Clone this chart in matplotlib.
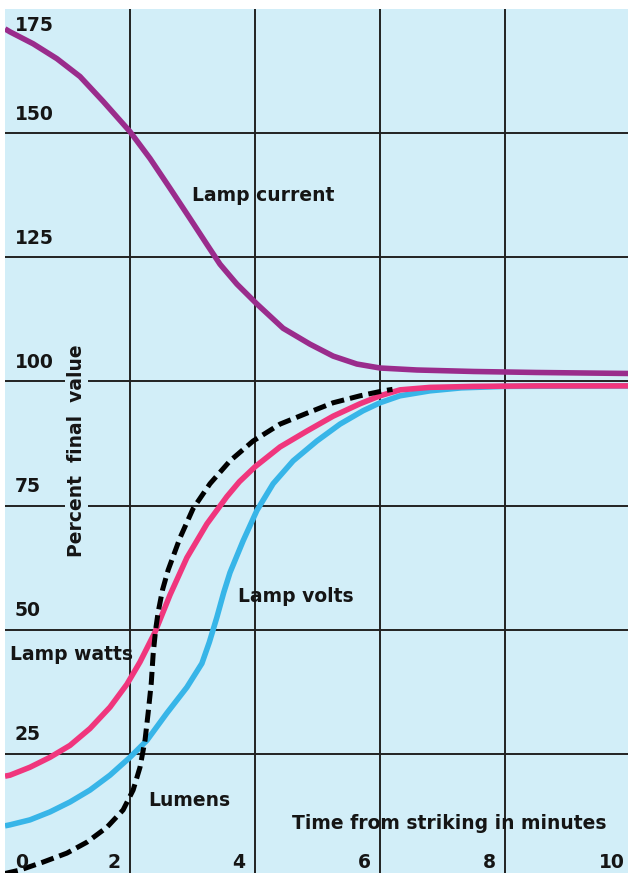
import matplotlib
matplotlib.use("Agg")
import matplotlib.pyplot as plt

plt.rcParams['font.family'] = ['DejaVu Sans']

# ---- data ----
x_ticks = [0, 2, 4, 6, 8, 10]
x_tick_labels = ["0", "2", "4", "6", "8", "10"]
y_ticks = [25, 50, 75, 100, 125, 150, 175]
y_tick_labels = ["25", "50", "75", "100", "125", "150", "175"]

current_x = [0, 0.08, 0.45, 0.83, 1.2, 1.57, 2.0, 2.32, 2.64, 2.96, 3.23, 3.44, 3.71, 4.03,
             4.45, 4.88, 5.25, 5.63, 6.0, 6.59, 7.5, 8.5, 9.97]
current_y = [171.0, 170.4, 168.0, 165.0, 161.4, 156.4, 150.3, 144.9, 138.9, 132.8, 127.6, 123.6,
             119.6, 115.6, 110.7, 107.5, 105.1, 103.5, 102.7, 102.3, 102.0, 101.8, 101.6]

watts_x = [0, 0.08, 0.4, 0.72, 1.04, 1.36, 1.68, 1.95, 2.16, 2.4, 2.64, 2.91, 3.23, 3.55, 3.75,
           4.0, 4.4, 4.83, 5.25, 5.68, 6.0, 6.32, 6.8, 7.5, 8.5, 9.97]
watts_y = [20.5, 20.7, 22.3, 24.3, 26.7, 30.1, 34.4, 39.0, 43.5, 49.5, 57.0, 64.5, 71.3, 76.8, 79.8,
           82.8, 86.8, 90.0, 93.0, 95.5, 97.1, 98.3, 98.8, 99.0, 99.1, 99.1]

volts_x = [0, 0.08, 0.4, 0.72, 1.04, 1.36, 1.68, 2.0, 2.27, 2.59, 2.91, 3.15, 3.27, 3.39, 3.5,
           3.6, 3.81, 4.03, 4.29, 4.61, 4.99, 5.36, 5.73, 6.0, 6.32, 6.8, 7.3, 8.0, 9.97]
volts_y = [10.5, 10.7, 11.7, 13.3, 15.3, 17.7, 20.7, 24.3, 27.7, 33.2, 38.4, 43.2, 47.5, 52.5, 57.5,
           61.5, 67.9, 74.0, 79.4, 84.0, 88.0, 91.4, 94.1, 95.7, 97.1, 98.1, 98.7, 99.0, 99.1]

lumens_x = [0, 0.24, 0.61, 0.99, 1.31, 1.63, 1.89, 2.05, 2.16, 2.24, 2.29, 2.34, 2.37, 2.41, 2.45,
            2.52, 2.61, 2.8, 3.01, 3.28, 3.6, 3.97, 4.4, 4.83, 5.25, 5.68, 6.05, 6.2]
lumens_y = [0.9, 1.6, 3.2, 5.0, 7.2, 10.2, 13.7, 17.7, 22.3, 27.7, 33.2, 39.2, 45.0, 50.0, 53.5,
            58.0, 62.0, 68.5, 74.4, 79.4, 84.0, 88.0, 91.4, 93.6, 95.7, 97.1, 98.1, 98.4]

# ---- style ----
BG = "#d2eef8"
PURPLE = "#9a2c8c"
PINK = "#f0367d"
BLUE = "#37b5e8"
TXT = "#151515"
FS = 13.5

fig = plt.figure(figsize=(6.28, 8.73), dpi=100, facecolor="white")
ax = fig.add_axes([5 / 628, 0, 625 / 628, 864 / 873])
ax.set_facecolor(BG)
ax.set_xlim(0, 10)
ax.set_ylim(1, 175)

ax.set_xticks([t for t in x_ticks if 0 < t < 10])
ax.set_yticks([t for t in y_ticks if t < 175])
ax.tick_params(length=0, labelbottom=False, labelleft=False)
ax.grid(True, color="#222222", linewidth=1.4)
ax.set_axisbelow(True)
for s in ax.spines.values():
    s.set_visible(False)

ax.plot(current_x, current_y, color=PURPLE, lw=4.0, solid_capstyle="butt",
        solid_joinstyle="round", zorder=3)
ax.plot(volts_x, volts_y, color=BLUE, lw=4.0, solid_capstyle="butt",
        solid_joinstyle="round", zorder=3)
ax.plot(watts_x, watts_y, color=PINK, lw=4.0, solid_capstyle="butt",
        solid_joinstyle="round", zorder=4)
ax.plot(lumens_x, lumens_y, color="black", lw=3.6, dashes=(2.6, 1.2),
        solid_joinstyle="round", zorder=5)

txt = dict(fontsize=FS, color=TXT, fontweight="bold", zorder=6)

# y tick labels inside the plot
for v, lab in zip(y_ticks, y_tick_labels):
    yy = v - 3.4 if v == 175 else v + 3.8
    ax.text(0.16, yy, lab, ha="left", va="center", **txt)

# x tick labels inside the plot
for v, lab in zip(x_ticks, x_tick_labels):
    if v == 0:
        ax.text(0.16, 3.2, lab, ha="left", va="center", **txt)
    elif v == 10:
        ax.text(v - 0.08, 3.2, lab, ha="right", va="center", **txt)
    else:
        ax.text(v - 0.15, 3.2, lab, ha="right", va="center", **txt)

ax.text(3.0, 137.5, "Lamp current", ha="left", va="center", **txt)
ax.text(3.73, 56.7, "Lamp volts", ha="left", va="center", **txt)
ax.text(0.08, 45.0, "Lamp watts", ha="left", va="center", **txt)
ax.text(2.29, 15.7, "Lumens", ha="left", va="center", **txt)
ax.text(4.59, 10.9, "Time from striking in minutes", ha="left", va="center", **txt)
ax.text(1.15, 86.0, "Percent  final  value", rotation=90, ha="center", va="center",
        bbox=dict(facecolor=BG, edgecolor="none", pad=1.5), **txt)

fig.savefig("out.png", dpi=100, facecolor="white")
